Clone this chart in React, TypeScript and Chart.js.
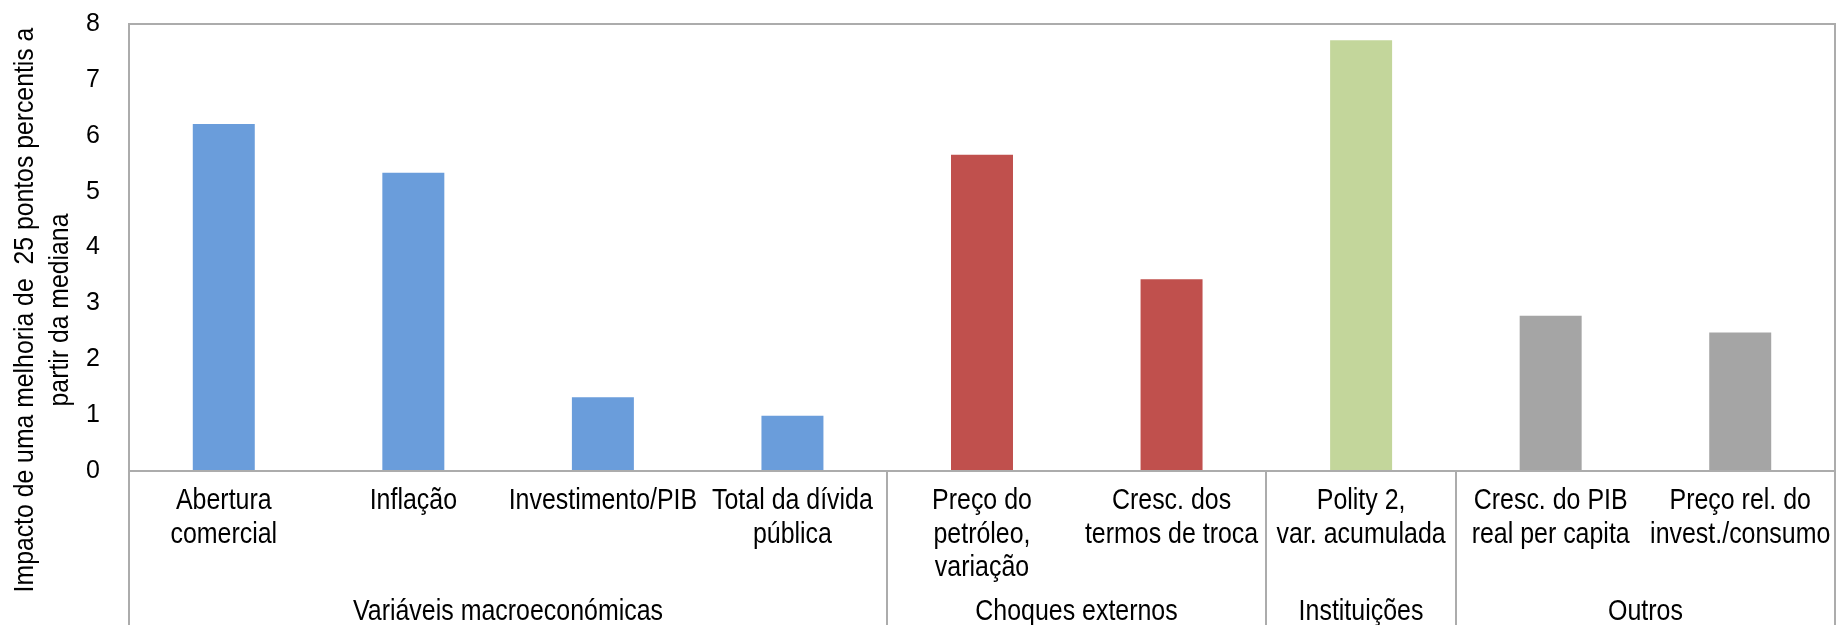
import React, { useEffect, useRef } from "react";
import { Chart, registerables } from "chart.js";

Chart.register(...registerables);

// ---- data ----
const categories: string[][] = [
  ["Abertura", "comercial"],
  ["Inflação"],
  ["Investimento/PIB"],
  ["Total da dívida", "pública"],
  ["Preço do", "petróleo,", "variação"],
  ["Cresc. dos", "termos de troca"],
  ["Polity 2,", "var. acumulada"],
  ["Cresc. do PIB", "real per capita"],
  ["Preço rel. do", "invest./consumo"],
];
const values: number[] = [6.21, 5.34, 1.32, 0.99, 5.66, 3.43, 7.71, 2.78, 2.48];
const groupNames: string[] = ["Variáveis macroeconómicas", "Choques externos", "Instituições", "Outros"];
const groupSizes: number[] = [4, 2, 1, 2];
const groupColors: string[] = ["#6a9ddb", "#c0504d", "#c3d69b", "#a5a5a5"];
const yMin = 0;
const yMax = 8;
const yStep = 1;
const yTitleLines: string[] = ["Impacto de uma melhoria de  25 pontos percentis a", "partir da mediana"];

const FONT = "'Liberation Sans', Arial, sans-serif";
const LINE_COLOR = "#acacac";
const TEXT_SIZE = 29;
const SQUEEZE = 0.86;

const barColors: string[] = [];
groupSizes.forEach((n, g) => {
  for (let i = 0; i < n; i++) barColors.push(groupColors[g]);
});

function squeezedText(ctx: CanvasRenderingContext2D, text: string, x: number, y: number, sx: number) {
  ctx.save();
  ctx.translate(x, y);
  ctx.scale(sx, 1);
  ctx.fillText(text, 0, 0);
  ctx.restore();
}

const framePlugin = {
  id: "frame",
  afterDatasetsDraw(chart: any) {
    const { ctx, chartArea: a, scales } = chart;
    const xs = scales.x;
    const H = chart.height;
    ctx.save();
    ctx.strokeStyle = LINE_COLOR;
    ctx.lineWidth = 2;
    ctx.beginPath();
    ctx.moveTo(a.left, a.top);
    ctx.lineTo(a.right, a.top);
    ctx.moveTo(a.left, a.bottom);
    ctx.lineTo(a.right, a.bottom);
    ctx.moveTo(a.left, a.top - 1);
    ctx.lineTo(a.left, H);
    ctx.moveTo(a.right, a.top - 1);
    ctx.lineTo(a.right, H);
    const bounds: number[] = [a.left];
    let idx = 0;
    for (let g = 0; g < groupSizes.length - 1; g++) {
      idx += groupSizes[g];
      const sx = Math.round((xs.getPixelForTick(idx - 1) + xs.getPixelForTick(idx)) / 2);
      bounds.push(sx);
      ctx.moveTo(sx, a.bottom);
      ctx.lineTo(sx, H);
    }
    bounds.push(a.right);
    ctx.stroke();

    ctx.fillStyle = "#000";
    ctx.font = `${TEXT_SIZE}px ${FONT}`;
    ctx.textAlign = "center";
    ctx.textBaseline = "alphabetic";

    // category labels
    categories.forEach((lines, i) => {
      const cx = xs.getPixelForTick(i);
      lines.forEach((line, j) => {
        squeezedText(ctx, line, cx, a.bottom + 38 + j * 33.5, SQUEEZE);
      });
    });

    // group labels
    groupNames.forEach((name, g) => {
      const cx = (bounds[g] + bounds[g + 1]) / 2;
      squeezedText(ctx, name, cx, 620, SQUEEZE);
    });

    // y-axis title (rotated)
    const cy = 310;
    yTitleLines.forEach((line, j) => {
      ctx.save();
      ctx.translate(33 + j * 35, cy);
      ctx.rotate(-Math.PI / 2);
      ctx.font = `28px ${FONT}`;
      ctx.scale(0.885, 1);
      ctx.fillText(line, 0, 0);
      ctx.restore();
    });
    ctx.restore();
  },
};

export default function App() {
  const ref = useRef<HTMLCanvasElement | null>(null);
  useEffect(() => {
    if (!ref.current) return;
    const chart = new Chart(ref.current, {
      type: "bar",
      data: {
        labels: categories,
        datasets: [
          {
            data: values,
            backgroundColor: barColors,
            borderWidth: 0,
            categoryPercentage: 1,
            barPercentage: 0.327,
          },
        ],
      },
      options: {
        responsive: false,
        animation: false,
        devicePixelRatio: 1,
        layout: { padding: { top: 24, right: 4, left: 0, bottom: 0 } },
        plugins: { legend: { display: false }, tooltip: { enabled: false } },
        scales: {
          x: {
            grid: { display: false, drawTicks: false },
            border: { display: false },
            ticks: { display: false },
            afterFit: (s: any) => {
              s.height = 154;
              s.paddingLeft = 0;
              s.paddingRight = 0;
            },
          },
          y: {
            min: yMin,
            max: yMax,
            grid: { display: false, drawTicks: false },
            border: { display: false },
            ticks: {
              stepSize: yStep,
              padding: 29,
              color: "#000",
              font: { family: FONT, size: 25 },
            },
            afterFit: (s: any) => {
              s.width = 129;
              s.paddingTop = 0;
              s.paddingBottom = 0;
            },
          },
        },
      },
      plugins: [framePlugin],
    });
    return () => chart.destroy();
  }, []);
  return (
    <canvas
      ref={ref}
      width={1839}
      height={625}
      style={{ position: "absolute", left: 0, top: 0, display: "block" }}
    />
  );
}
